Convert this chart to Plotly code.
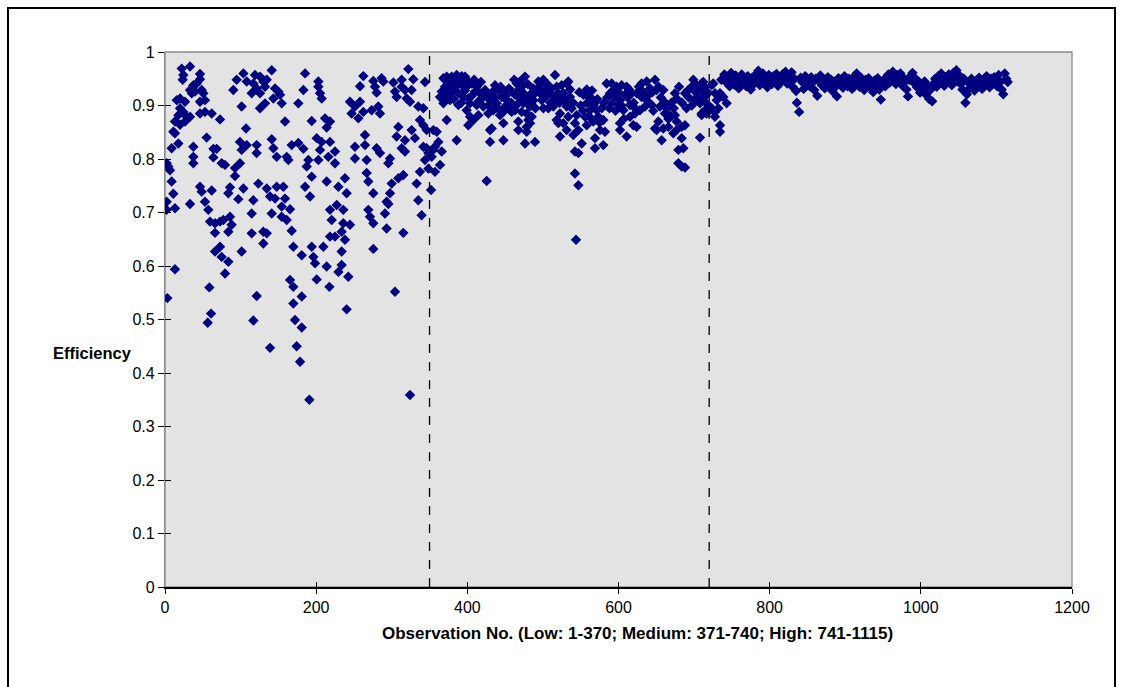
import plotly.graph_objects as go

# ---------------- data (observation no., efficiency) ----------------
LOW_POINTS = [
    (22.1, 0.969), (33.1, 0.973), (24.3, 0.957), (23.4, 0.948), (46.3, 0.959), (46.3, 0.949),
    (37.5, 0.938), (41.9, 0.941), (33.1, 0.929), (35.3, 0.923), (39.7, 0.926), (48.5, 0.929),
    (50.7, 0.923), (52.9, 0.910), (46.3, 0.907), (19.9, 0.913), (15.5, 0.910), (26.5, 0.907),
    (19.9, 0.895), (24.3, 0.888), (17.7, 0.882), (28.7, 0.879), (13.2, 0.870), (19.9, 0.864),
    (26.5, 0.870), (33.1, 0.879), (46.3, 0.885), (52.9, 0.888), (61.8, 0.885), (72.8, 0.874),
    (11.0, 0.851), (17.7, 0.829), (8.8, 0.820), (13.2, 0.848), (37.5, 0.823), (55.1, 0.840),
    (64.0, 0.819), (68.4, 0.819), (37.5, 0.804), (37.5, 0.792), (64.0, 0.803), (75.0, 0.792),
    (79.4, 0.789), (92.6, 0.783), (92.6, 0.768), (99.2, 0.792), (2.2, 0.792), (4.4, 0.786),
    (6.6, 0.779), (8.8, 0.758), (11.0, 0.735), (2.2, 0.720), (13.2, 0.708), (33.1, 0.716),
    (46.3, 0.748), (48.5, 0.739), (61.8, 0.741), (52.9, 0.720), (57.3, 0.705), (59.6, 0.683),
    (66.2, 0.680), (72.8, 0.683), (77.2, 0.686), (86.0, 0.692), (88.2, 0.677), (66.2, 0.662),
    (83.8, 0.664), (72.8, 0.636), (66.2, 0.627), (75.0, 0.617), (83.8, 0.608), (79.4, 0.586),
    (103.7, 0.960), (94.8, 0.948), (108.1, 0.945), (90.4, 0.929), (101.4, 0.898), (107.2, 0.857),
    (99.2, 0.832), (108.1, 0.826), (101.4, 0.817), (86.0, 0.747), (83.8, 0.736), (97.0, 0.725),
    (103.7, 0.745), (101.4, 0.627), (13.2, 0.594), (58.7, 0.560), (60.9, 0.511), (56.5, 0.494),
    (3.1, 0.540), (2.2, 0.705),
    (119.1, 0.957), (125.7, 0.954), (116.9, 0.941), (121.3, 0.932), (114.7, 0.923), (130.1, 0.945),
    (134.6, 0.948), (132.3, 0.935), (125.7, 0.923), (141.2, 0.966), (145.6, 0.932), (150.0, 0.926),
    (152.2, 0.920), (143.4, 0.913), (132.3, 0.904), (125.7, 0.895), (154.4, 0.904), (176.4, 0.904),
    (185.3, 0.960), (202.9, 0.945), (202.9, 0.935), (183.1, 0.929), (205.1, 0.923), (207.3, 0.913),
    (158.8, 0.870), (194.1, 0.871), (211.7, 0.876), (218.3, 0.870), (213.9, 0.859), (121.3, 0.826),
    (121.3, 0.811), (141.2, 0.837), (143.4, 0.820), (147.8, 0.804), (161.0, 0.804), (163.2, 0.798),
    (167.6, 0.826), (176.4, 0.830), (183.1, 0.819), (189.7, 0.798), (187.5, 0.786), (200.7, 0.839),
    (207.3, 0.832), (218.3, 0.832), (205.1, 0.817), (216.1, 0.804), (224.9, 0.814), (224.9, 0.792),
    (194.1, 0.767), (202.9, 0.798), (123.5, 0.754), (134.6, 0.745), (147.8, 0.748), (156.6, 0.748),
    (139.0, 0.730), (145.6, 0.726), (158.8, 0.726), (116.9, 0.723), (114.7, 0.698), (141.2, 0.698),
    (154.4, 0.711), (165.4, 0.706), (154.4, 0.692), (161.0, 0.686), (130.1, 0.664), (134.6, 0.661),
    (167.6, 0.666), (114.7, 0.661), (130.1, 0.642), (185.3, 0.748), (191.9, 0.730), (213.9, 0.758),
    (229.4, 0.748), (218.3, 0.705), (227.2, 0.714), (220.5, 0.686), (224.9, 0.655), (218.3, 0.655),
    (169.8, 0.636), (180.9, 0.620), (194.1, 0.636), (196.3, 0.617), (198.5, 0.605), (209.5, 0.636),
    (213.9, 0.599), (200.7, 0.575), (217.5, 0.561), (229.4, 0.589), (121.3, 0.544), (116.9, 0.498),
    (165.4, 0.574), (169.8, 0.561), (180.9, 0.543), (169.8, 0.530), (172.0, 0.499), (180.9, 0.485),
    (139.0, 0.447), (174.2, 0.450), (178.7, 0.421), (191.0, 0.350),
    (262.4, 0.955), (258.0, 0.936), (275.6, 0.946), (277.8, 0.935), (286.6, 0.951), (288.8, 0.945),
    (280.0, 0.924), (302.1, 0.943), (313.1, 0.948), (321.9, 0.968), (328.5, 0.949), (344.0, 0.944),
    (304.3, 0.926), (313.1, 0.935), (317.5, 0.929), (306.5, 0.916), (319.7, 0.913), (326.3, 0.929),
    (324.1, 0.907), (335.1, 0.898), (341.8, 0.895), (244.7, 0.907), (258.0, 0.907), (251.3, 0.898),
    (246.9, 0.885), (255.8, 0.876), (262.4, 0.888), (273.4, 0.891), (282.2, 0.898), (284.4, 0.885),
    (337.3, 0.873), (341.8, 0.863), (326.3, 0.854), (346.2, 0.854), (308.7, 0.860), (264.6, 0.845),
    (251.3, 0.823), (264.6, 0.826), (280.0, 0.820), (284.4, 0.811), (251.3, 0.801), (266.8, 0.798),
    (297.7, 0.801), (295.5, 0.792), (306.5, 0.842), (317.5, 0.835), (330.7, 0.839), (313.1, 0.820),
    (317.5, 0.814), (346.2, 0.820), (348.4, 0.811), (238.1, 0.764), (266.8, 0.774), (269.0, 0.758),
    (240.3, 0.736), (275.6, 0.736), (235.9, 0.705), (299.9, 0.754), (308.7, 0.764), (315.3, 0.770),
    (297.7, 0.736), (293.2, 0.720), (295.5, 0.716), (291.0, 0.698), (332.9, 0.754), (337.3, 0.776),
    (335.1, 0.723), (339.5, 0.695), (235.9, 0.680), (244.7, 0.677), (233.7, 0.664), (269.0, 0.705),
    (271.2, 0.692), (275.6, 0.680), (293.2, 0.670), (315.3, 0.662), (238.1, 0.649), (233.7, 0.627),
    (275.6, 0.632), (233.7, 0.602), (242.5, 0.580), (304.3, 0.552), (240.3, 0.519), (324.1, 0.359),
    (348.4, 0.782), (341.8, 0.823), (344.0, 0.798),
]

MEDIUM_POINTS = [
    (352.0, 0.742), (355.0, 0.854), (359.5, 0.851), (361.7, 0.832), (357.2, 0.823), (366.1, 0.814),
    (363.9, 0.789), (357.2, 0.776), (352.8, 0.804), (355.0, 0.817),
    (368.3, 0.951), (372.7, 0.954), (379.3, 0.954), (385.9, 0.957), (392.5, 0.955), (396.9, 0.954),
    (399.1, 0.948), (390.3, 0.945), (381.5, 0.945), (374.9, 0.941), (370.5, 0.935), (366.1, 0.926),
    (377.1, 0.932), (383.7, 0.935), (394.7, 0.935), (401.3, 0.938), (363.9, 0.916), (370.5, 0.916),
    (379.3, 0.923), (388.1, 0.923), (394.7, 0.916), (368.3, 0.904), (377.1, 0.910), (388.1, 0.901),
    (401.3, 0.913), (403.6, 0.904), (399.1, 0.891), (403.6, 0.879), (401.3, 0.863), (405.8, 0.941),
    (412.4, 0.935), (410.2, 0.926), (416.8, 0.923), (423.4, 0.929), (419.0, 0.913), (412.4, 0.901),
    (421.2, 0.898), (430.0, 0.910), (436.6, 0.938), (441.0, 0.929), (445.4, 0.916), (438.8, 0.904),
    (452.1, 0.910), (449.9, 0.898), (456.5, 0.895), (447.7, 0.888), (434.4, 0.891), (427.8, 0.885),
    (414.6, 0.882), (408.0, 0.873), (432.2, 0.857), (430.0, 0.854), (447.7, 0.867), (443.2, 0.882),
    (458.7, 0.888), (465.3, 0.941), (469.7, 0.945), (476.3, 0.954), (467.5, 0.929), (463.1, 0.920),
    (469.7, 0.913), (474.1, 0.904), (465.3, 0.901), (463.1, 0.891), (471.9, 0.888), (478.5, 0.910),
    (483.0, 0.920), (487.3, 0.932), (494.0, 0.945), (500.6, 0.948), (505.0, 0.941), (502.8, 0.929),
    (496.2, 0.923), (489.5, 0.923), (498.4, 0.910), (487.3, 0.910), (483.0, 0.898), (478.5, 0.885),
    (485.1, 0.879), (480.7, 0.873), (467.5, 0.870), (478.5, 0.860), (467.5, 0.854), (500.6, 0.895),
    (507.2, 0.895), (513.8, 0.898), (516.0, 0.957), (518.2, 0.935), (511.6, 0.932), (520.4, 0.923),
    (524.8, 0.938), (531.4, 0.941), (527.0, 0.923), (529.2, 0.907), (531.4, 0.898), (522.6, 0.885),
    (518.2, 0.873), (520.4, 0.867), (527.0, 0.867), (522.6, 0.842), (531.4, 0.854), (533.6, 0.879),
    (478.5, 0.851), (483.0, 0.867), (447.7, 0.835), (430.0, 0.832), (476.3, 0.829), (489.5, 0.832),
    (385.9, 0.835), (425.6, 0.759), (372.7, 0.873),
    (533.6, 0.945), (535.8, 0.916), (538.0, 0.895), (544.7, 0.882), (542.4, 0.867), (546.9, 0.854),
    (540.2, 0.845), (553.5, 0.920), (560.1, 0.916), (564.5, 0.913), (557.9, 0.904), (566.7, 0.901),
    (562.3, 0.891), (555.7, 0.879), (571.1, 0.891), (577.7, 0.895), (573.3, 0.879), (566.7, 0.870),
    (557.9, 0.863), (579.9, 0.873), (575.5, 0.854), (568.9, 0.839), (582.1, 0.851), (579.9, 0.826),
    (568.9, 0.820), (551.3, 0.829), (542.4, 0.814), (546.9, 0.811), (542.4, 0.773), (546.9, 0.751),
    (543.8, 0.649), (584.3, 0.941), (591.0, 0.941), (597.6, 0.935), (604.2, 0.938), (610.8, 0.935),
    (588.8, 0.923), (595.4, 0.916), (602.0, 0.910), (608.6, 0.920), (591.0, 0.904), (599.8, 0.901),
    (606.4, 0.891), (615.2, 0.901), (617.4, 0.923), (624.0, 0.923), (630.6, 0.941), (637.3, 0.945),
    (648.3, 0.948), (641.7, 0.932), (650.5, 0.929), (659.3, 0.929), (630.6, 0.916), (637.3, 0.910),
    (635.1, 0.898), (643.9, 0.901), (628.4, 0.891), (621.8, 0.885), (615.2, 0.879), (602.0, 0.867),
    (610.8, 0.842), (624.0, 0.860), (619.6, 0.863), (602.0, 0.854), (654.9, 0.898), (663.7, 0.895),
    (668.1, 0.882), (661.5, 0.885), (652.7, 0.870), (648.3, 0.857), (659.3, 0.857), (650.5, 0.854),
    (665.9, 0.860), (674.7, 0.882), (676.9, 0.870), (676.9, 0.854), (683.6, 0.860), (688.0, 0.863),
    (672.5, 0.848), (683.6, 0.839), (657.1, 0.835), (679.2, 0.817), (685.8, 0.820), (679.2, 0.792),
    (683.6, 0.786), (688.0, 0.784), (674.7, 0.923), (676.9, 0.913), (688.0, 0.923), (692.4, 0.929),
    (696.8, 0.935), (699.0, 0.948), (703.4, 0.938), (710.0, 0.941), (712.2, 0.926), (705.6, 0.916),
    (699.0, 0.910), (707.8, 0.904), (716.6, 0.920), (710.0, 0.885), (716.6, 0.885), (707.8, 0.840),
    (712.2, 0.944), (712.2, 0.910), (710.0, 0.882), (714.4, 0.891),
    (375, 0.925), (382, 0.912), (392, 0.905), (397, 0.928), (406, 0.918), (409, 0.948),
    (415, 0.908), (418, 0.944), (426, 0.918), (428, 0.900), (433, 0.925), (437, 0.915),
    (440, 0.895), (444, 0.935), (448, 0.925), (451, 0.918), (455, 0.932), (458, 0.905),
    (460, 0.925), (462, 0.948), (472, 0.935), (475, 0.922), (480, 0.940), (485, 0.905),
    (490, 0.895), (493, 0.932), (497, 0.940), (503, 0.915), (507, 0.925), (510, 0.905),
    (514, 0.918), (517, 0.910), (522, 0.905), (525, 0.915), (536, 0.930), (540, 0.905),
    (548, 0.925), (550, 0.900), (553, 0.890), (558, 0.930), (561, 0.880), (565, 0.928),
    (569, 0.905), (572, 0.912), (575, 0.868), (581, 0.905), (585, 0.915), (588, 0.895),
    (593, 0.928), (596, 0.890), (600, 0.925), (604, 0.900), (607, 0.875), (612, 0.915),
    (614, 0.930), (620, 0.905), (622, 0.895), (627, 0.935), (633, 0.925), (635, 0.915),
    (640, 0.920), (645, 0.925), (646, 0.890), (653, 0.935), (656, 0.915), (662, 0.905),
    (666, 0.875), (670, 0.905), (673, 0.895), (680, 0.935), (684, 0.905), (690, 0.895),
    (693, 0.915), (697, 0.900), (702, 0.925), (706, 0.930), (714, 0.935), (718, 0.925),
]

HIGH_POINTS = [
    (723.3, 0.938), (727.7, 0.923), (718.8, 0.901), (723.3, 0.895), (727.7, 0.888),
    (725.4, 0.941), (734.3, 0.923), (729.9, 0.910), (738.7, 0.916), (743.1, 0.904), (732.1, 0.895),
    (725.4, 0.891), (727.6, 0.879), (734.3, 0.863), (734.3, 0.851),
    (736, 0.948), (740, 0.958), (742, 0.944), (745, 0.953), (747, 0.936), (749, 0.961),
    (751, 0.947), (753, 0.939), (755, 0.956), (757, 0.944), (759, 0.932), (761, 0.951),
    (763, 0.958), (765, 0.941), (767, 0.949), (769, 0.936), (771, 0.955), (773, 0.944),
    (775, 0.930), (777, 0.952), (779, 0.940), (781, 0.957), (783, 0.947), (785, 0.965),
    (787, 0.938), (789, 0.953), (791, 0.960), (793, 0.944), (795, 0.951), (797, 0.934),
    (799, 0.957), (801, 0.946), (803, 0.940), (805, 0.955), (807, 0.948), (809, 0.959),
    (811, 0.937), (813, 0.952), (815, 0.944), (817, 0.958), (819, 0.949), (821, 0.963),
    (823, 0.941), (825, 0.955), (827, 0.947), (829, 0.962), (831, 0.934), (833, 0.950),
    (835, 0.927), (836, 0.905), (839, 0.888), (841, 0.952), (843, 0.944), (845, 0.931),
    (847, 0.955), (849, 0.940), (851, 0.948), (853, 0.936), (855, 0.953), (857, 0.943),
    (859, 0.929), (861, 0.950), (863, 0.918), (865, 0.946), (867, 0.956), (869, 0.938),
    (871, 0.950), (873, 0.932), (875, 0.944), (877, 0.953), (879, 0.939), (881, 0.948),
    (883, 0.927), (885, 0.945), (887, 0.935), (889, 0.917), (891, 0.951), (893, 0.940),
    (895, 0.947), (897, 0.933), (899, 0.955), (901, 0.942), (903, 0.936), (905, 0.950),
    (907, 0.944), (909, 0.931), (911, 0.953), (913, 0.940), (915, 0.960), (917, 0.947),
    (919, 0.935), (921, 0.952), (923, 0.943), (925, 0.929), (927, 0.948), (929, 0.938),
    (931, 0.951), (933, 0.934), (935, 0.944), (937, 0.925), (939, 0.947), (941, 0.936),
    (943, 0.951), (945, 0.930), (947, 0.911), (949, 0.941), (951, 0.948), (953, 0.936),
    (955, 0.952), (957, 0.958), (959, 0.943), (961, 0.955), (963, 0.963), (965, 0.949),
    (967, 0.940), (969, 0.957), (971, 0.946), (973, 0.960), (975, 0.938), (977, 0.951),
    (979, 0.944), (981, 0.930), (983, 0.917), (985, 0.948), (987, 0.956), (989, 0.961),
    (991, 0.942), (993, 0.950), (995, 0.934), (997, 0.945), (999, 0.924), (1001, 0.938),
    (1003, 0.929), (1005, 0.945), (1007, 0.920), (1009, 0.936), (1011, 0.912), (1013, 0.930),
    (1015, 0.908), (1017, 0.941), (1019, 0.950), (1021, 0.935), (1023, 0.955), (1025, 0.943),
    (1027, 0.960), (1029, 0.948), (1031, 0.937), (1033, 0.953), (1035, 0.944), (1037, 0.958),
    (1039, 0.950), (1041, 0.938), (1043, 0.961), (1045, 0.952), (1047, 0.966), (1049, 0.945),
    (1051, 0.956), (1053, 0.940), (1055, 0.930), (1057, 0.950), (1059, 0.905), (1061, 0.921),
    (1063, 0.943), (1065, 0.933), (1067, 0.950), (1069, 0.938), (1071, 0.928), (1073, 0.946),
    (1075, 0.936), (1077, 0.952), (1079, 0.941), (1081, 0.931), (1083, 0.948), (1085, 0.939),
    (1087, 0.955), (1089, 0.944), (1091, 0.934), (1093, 0.950), (1095, 0.940), (1097, 0.953),
    (1099, 0.946), (1101, 0.936), (1103, 0.957), (1105, 0.944), (1107, 0.930), (1109, 0.921),
    (1111, 0.960), (1113, 0.950), (1115, 0.944),
]

BOUNDARIES = [350, 720]
X_TICKS = [0, 200, 400, 600, 800, 1000, 1200]
Y_TICKS = [0, 0.1, 0.2, 0.3, 0.4, 0.5, 0.6, 0.7, 0.8, 0.9, 1]
Y_TICK_LABELS = ["0", "0.1", "0.2", "0.3", "0.4", "0.5", "0.6", "0.7", "0.8", "0.9", "1"]
X_TITLE = "Observation No. (Low: 1-370; Medium: 371-740; High: 741-1115)"
Y_TITLE = "Efficiency"

# ---------------- figure ----------------
FONT = "Liberation Sans, Arial, sans-serif"
fig = go.Figure()
for pts in (LOW_POINTS, MEDIUM_POINTS, HIGH_POINTS):
    xs = [p[0] for p in pts]
    ys = [p[1] for p in pts]
    fig.add_trace(go.Scatter(
        x=xs, y=ys, mode="markers",
        marker=dict(symbol="diamond", size=8, color="#000080", line=dict(width=0)),
        showlegend=False, hoverinfo="x+y",
    ))

# dummy trace on overlay axes (for crossing ticks)
fig.add_trace(go.Scatter(x=[None], y=[None], xaxis="x2", yaxis="y2", showlegend=False))

for b in BOUNDARIES:
    fig.add_shape(type="line", xref="x", yref="paper", x0=b, x1=b, y0=0, y1=1,
                  line=dict(color="black", width=1.3, dash="dash"), layer="above")

# plot area border (grey)
fig.add_shape(type="rect", xref="paper", yref="paper", x0=0, x1=1, y0=0, y1=1,
              line=dict(color="#8a8a8a", width=1.3), layer="below")

W, H = 1123, 687
ML, MR, MT, MB = 165, 51, 52, 100
PW, PH = W - ML - MR, H - MT - MB

def px_x(p):
    return (p - ML) / PW

def px_y(p):
    return (H - MB - p) / PH

# outer chart-area frame
fig.add_shape(type="rect", xref="paper", yref="paper",
              x0=px_x(8), x1=px_x(1115), y0=px_y(720), y1=px_y(8),
              line=dict(color="black", width=2), layer="below")

fig.add_annotation(text="<b>" + Y_TITLE + "</b>", xref="paper", yref="paper",
                   x=px_x(134), y=px_y(353), xanchor="right", yanchor="middle",
                   showarrow=False, font=dict(family=FONT, size=16.5, color="black"))
fig.add_annotation(text="<b>" + X_TITLE + "</b>", xref="paper", yref="paper",
                   x=px_x(637), y=px_y(633), xanchor="center", yanchor="middle",
                   showarrow=False, font=dict(family=FONT, size=17, color="black"))

fig.update_layout(
    width=W, height=H,
    margin=dict(l=ML, r=MR, t=MT, b=MB, pad=0),
    paper_bgcolor="white", plot_bgcolor="#e3e3e3",
    font=dict(family=FONT, size=16, color="black"),
    xaxis=dict(range=[0, 1200], tickvals=X_TICKS, ticks="outside", ticklen=5, tickwidth=1.3,
               tickcolor="black", showgrid=False, zeroline=False, showline=True,
               linecolor="black", linewidth=1.6, tickfont=dict(size=16), fixedrange=True),
    yaxis=dict(range=[0, 1], tickvals=Y_TICKS, ticktext=Y_TICK_LABELS, ticks="outside",
               ticklen=6, tickwidth=1.3, tickcolor="black", showgrid=False, zeroline=False,
               showline=True, linecolor="#8a8a8a", linewidth=1.3, tickfont=dict(size=16),
               fixedrange=True),
    xaxis2=dict(range=[0, 1200], tickvals=X_TICKS, overlaying="x", side="bottom",
                ticks="inside", ticklen=5, tickwidth=1.3, tickcolor="black",
                showticklabels=False, showgrid=False, zeroline=False, showline=False),
    yaxis2=dict(range=[0, 1], tickvals=Y_TICKS, overlaying="y", side="left",
                ticks="inside", ticklen=6, tickwidth=1.3, tickcolor="black",
                showticklabels=False, showgrid=False, zeroline=False, showline=False),
)

fig.write_html("out.html")
